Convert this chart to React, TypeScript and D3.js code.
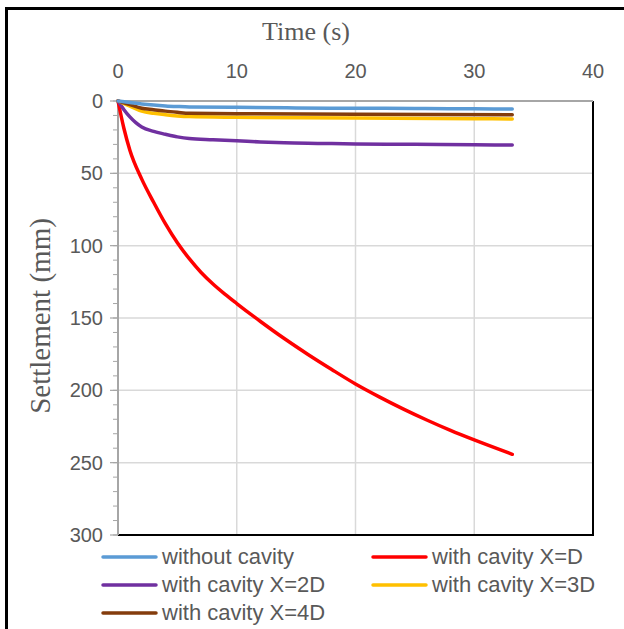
import React from "react";
import * as d3 from "d3";

const seriesNames = ["without cavity", "with cavity X=D", "with cavity X=2D", "with cavity X=3D", "with cavity X=4D"];
const seriesColors = ["#5B9BD5", "#FF0000", "#7030A0", "#FFC000", "#843C0C"];

const tWithout = [0, 1, 2, 3, 4, 5, 6, 10, 15, 20, 25, 30, 33.2];
const sWithout = [0, 1, 2, 2.8, 3.4, 3.8, 4.1, 4.4, 4.8, 5, 5.1, 5.4, 5.5];

const tXD = [0, 0.5, 1, 2, 3, 4, 5, 6, 7, 8, 9, 10, 12, 14, 16, 18, 20, 22, 24, 26, 28, 30, 33.2];
const sXD = [0, 19, 34, 54, 70, 85, 98, 109, 118.5, 126.5, 133.5, 140, 152.4, 164.2, 175.2, 185.6, 195.6, 204.5, 212.8, 220.5, 227.7, 234.3, 244.2];

const tX2D = [0, 0.5, 1, 1.5, 2, 3, 4, 5, 6, 8, 10, 12, 14, 17, 20, 25, 30, 33.2];
const sX2D = [0, 6, 11, 15, 18, 21, 23, 24.8, 26, 26.8, 27.5, 28.3, 28.9, 29.3, 29.7, 29.9, 30.3, 30.4];

const tX3D = [0, 1, 2, 3, 4, 5, 6, 10, 20, 30, 33.2];
const sX3D = [0, 3.5, 7, 8.5, 9.5, 10.3, 10.8, 11.3, 11.8, 12.2, 12.4];

const tX4D = [0, 1, 2, 3, 4, 5, 6, 10, 20, 33.2];
const sX4D = [0, 2.5, 5, 6, 7, 7.8, 8.5, 8.8, 9.2, 9.5];

const xTicks = [0, 10, 20, 30, 40];
const yTicks = [0, 50, 100, 150, 200, 250, 300];
const yMinorTicks = d3.range(0, 301, 10);

const seriesT = [tWithout, tXD, tX2D, tX3D, tX4D];
const seriesS = [sWithout, sXD, sX2D, sX3D, sX4D];

export default function App() {
  const left = 118, right = 593, top = 101, bottom = 535;
  const x = d3.scaleLinear().domain([0, 40]).range([left, right]);
  const y = d3.scaleLinear().domain([0, 300]).range([top, bottom]);
  const line = d3.line<[number, number]>().x(d => x(d[0])).y(d => y(d[1])).curve(d3.curveMonotoneX);
  const tickFont = "'Liberation Sans', Arial, sans-serif";
  const serif = "'Liberation Serif', 'Times New Roman', serif";
  const gray = "#595959";
  const drawOrder = [1, 2, 3, 4, 0];
  const legendPos = [
    [103, 557], [373, 557], [103, 585], [373, 585], [103, 613],
  ];
  return (
    <svg width={624} height={629} style={{ position: "absolute", left: 0, top: 0 }}>
      <rect x={0} y={0} width={624} height={629} fill="#fff" />
      <rect x={6.5} y={8.5} width={640} height={640} fill="none" stroke="#000" strokeWidth={3} />
      {yTicks.filter(v => v > 0 && v < 300).map(v => (
        <line key={"gy" + v} x1={left} x2={right} y1={y(v)} y2={y(v)} stroke="#d9d9d9" strokeWidth={1.5} />
      ))}
      {xTicks.filter(v => v > 0 && v < 40).map(v => (
        <line key={"gx" + v} x1={x(v)} x2={x(v)} y1={top} y2={bottom} stroke="#d9d9d9" strokeWidth={1.5} />
      ))}
      <line x1={right} x2={right} y1={top} y2={bottom + 1} stroke="#000" strokeWidth={2} />
      <line x1={left} x2={right} y1={bottom} y2={bottom} stroke="#000" strokeWidth={2} />
      {yMinorTicks.map(v => (
        <line key={"ym" + v} x1={left - 5} x2={left} y1={y(v)} y2={y(v)} stroke="#a6a6a6" strokeWidth={1} />
      ))}
      {yTicks.map(v => (
        <line key={"yM" + v} x1={left - 8} x2={left} y1={y(v)} y2={y(v)} stroke="#a6a6a6" strokeWidth={1.2} />
      ))}
      <line x1={left} x2={left} y1={top} y2={bottom} stroke="#a6a6a6" strokeWidth={2} />
      <line x1={left} x2={right} y1={top} y2={top} stroke="#a6a6a6" strokeWidth={2} />
      {drawOrder.map(i => (
        <path key={"s" + i} d={line(seriesT[i].map((t, j) => [t, seriesS[i][j]] as [number, number])) || ""}
          fill="none" stroke={seriesColors[i]} strokeWidth={3.5} strokeLinejoin="round" strokeLinecap="round" />
      ))}
      {xTicks.map(v => (
        <text key={"xt" + v} x={x(v)} y={78} textAnchor="middle" fontFamily={tickFont} fontSize={20} fill={gray}>{v}</text>
      ))}
      {yTicks.map(v => (
        <text key={"yt" + v} x={103} y={y(v) + 7} textAnchor="end" fontFamily={tickFont} fontSize={20} fill={gray}>{v}</text>
      ))}
      <text x={306} y={40} textAnchor="middle" fontFamily={serif} fontSize={26} fill={gray}>Time (s)</text>
      <text transform={`translate(50, 316) rotate(-90)`} textAnchor="middle" fontFamily={serif} fontSize={29} fill={gray}>Settlement (mm)</text>
      {seriesNames.map((n, i) => (
        <g key={"lg" + i}>
          <line x1={legendPos[i][0]} x2={legendPos[i][0] + 53} y1={legendPos[i][1]} y2={legendPos[i][1]} stroke={seriesColors[i]} strokeWidth={3.5} strokeLinecap="round" />
          <text x={legendPos[i][0] + 59} y={legendPos[i][1] + 7} fontFamily={tickFont} fontSize={22} fill={gray}>{n}</text>
        </g>
      ))}
    </svg>
  );
}
